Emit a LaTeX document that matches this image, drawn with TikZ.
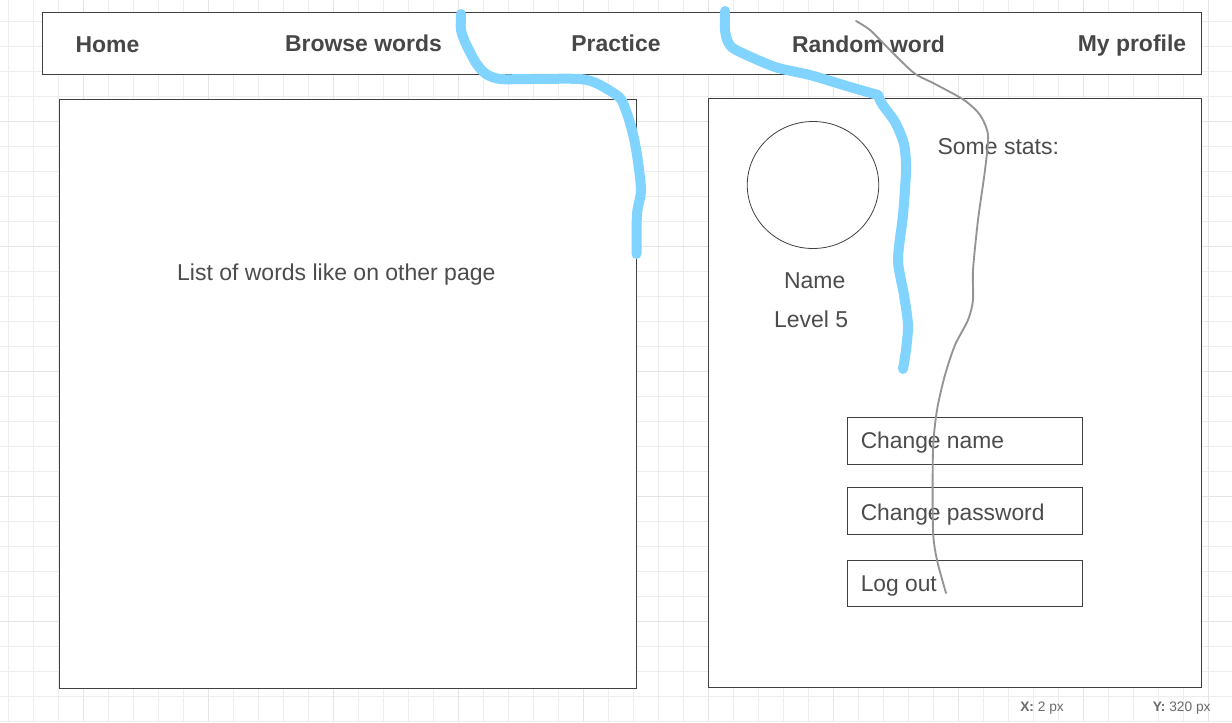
\documentclass[tikz,border=0pt]{standalone}
\usepackage{fontspec}
\setmainfont{Liberation Sans}
\usetikzlibrary{shapes.geometric}
\tikzset{
  x=0.75pt,y=-0.75pt,
  gridminor/.style={draw=black!7,line width=0.65pt},
  gridmajor/.style={draw=black!10,line width=0.85pt},
  panel/.style={draw=black!75,line width=0.7pt,fill=white,inner sep=0pt,outer sep=0pt},
  nav/.style={text=black!72,font=\fontsize{17.2}{20}\selectfont\bfseries,inner sep=0pt,anchor=base},
  label/.style={text=black!70,font=\fontsize{17.25}{20}\selectfont,inner sep=0pt,anchor=base},
  btnlabel/.style={text=black!70,font=\fontsize{17.1}{20}\selectfont,inner sep=0pt,anchor=base west},
  status/.style={text=black!58,font=\fontsize{10.3}{12}\selectfont,inner sep=0pt,anchor=base west},
  blue ink/.style={draw={rgb,255:red,128;green,212;blue,255},line width=7.5pt,line cap=round,line join=round},
  grey ink/.style={draw=black!42,line width=1.4pt,line cap=round,line join=round},
}
\begin{document}
\begin{tikzpicture}
\useasboundingbox (0,0) rectangle (1232,722);
\fill[white] (0,0) rectangle (1232,722);
\foreach \i in {0,...,48}{\draw[gridminor] ({8.3+25*\i},0) -- ({8.3+25*\i},722);}
\foreach \i in {0,...,28}{\draw[gridminor] (0,{21.7+25*\i}) -- (1232,{21.7+25*\i});}
\foreach \i in {0,...,9}{\draw[gridmajor] ({83.3+125*\i},0) -- ({83.3+125*\i},722);}
\foreach \i in {0,...,5}{\draw[gridmajor] (0,{121.7+125*\i}) -- (1232,{121.7+125*\i});}
\node[panel,minimum width=1159*0.75pt,minimum height=62*0.75pt,anchor=north west] (navbar) at (42.5,12.5) {};
\node[panel,minimum width=577*0.75pt,minimum height=589*0.75pt,anchor=north west] (wordlist) at (59.5,99.5) {};
\node[panel,minimum width=493*0.75pt,minimum height=589*0.75pt,anchor=north west] (profile) at (708.5,98.5) {};
\node[panel,ellipse,minimum width=131.5*0.75pt,minimum height=127*0.75pt,anchor=center,line width=0.6pt] (avatar) at (813,185) {};
\node[panel,minimum width=235*0.75pt,minimum height=47*0.75pt,anchor=north west] (changename) at (847.5,417.5) {};
\node[panel,minimum width=235*0.75pt,minimum height=47*0.75pt,anchor=north west] (changepass) at (847.5,487.5) {};
\node[panel,minimum width=235*0.75pt,minimum height=46*0.75pt,anchor=north west] (logout) at (847.5,560.5) {};
\node[nav] (home) at (107.5,52) {Home};
\node[nav] (browse) at (363.5,51) {Browse words};
\node[nav] (practice) at (616,51) {Practice};
\node[nav] (random) at (868.5,52) {Random word};
\node[nav] (myprofile) at (1132,51) {My profile};
\node[label] (list) at (336.3,280) {List of words like on other page};
\node[label] (name) at (814.7,288) {Name};
\node[label] (level) at (811.2,327) {Level 5};
\node[label] (stats) at (998.3,154) {Some stats:};
\node[btnlabel] (lblname) at (860.5,448) {Change name};
\node[btnlabel] (lblpass) at (860.5,520) {Change password};
\node[btnlabel] (lbllog) at (860.5,591) {Log out};
\node[status] (xpos) at (1020,711) {\textbf{X:} 2 px};
\node[status] (ypos) at (1152.5,711) {\textbf{Y:} 320 px};
\draw[blue ink] plot[smooth,tension=0.45] coordinates {(461,14) (461,30) (466,44) (476,63) (486,74) (500,79) (530,79) (580,79) (598,84) (619,97) (625,108) (632,130) (637,155) (641,190) (637,214) (636.5,254)};
\draw[blue ink] plot[smooth,tension=0.45] coordinates {(725,11) (725,30) (728,42) (736,50) (775,67) (810,75) (850,87) (878,95)};
\draw[blue ink] plot[smooth,tension=0.45] coordinates {(878,95) (882,104) (895,122) (904,144) (906,170) (903,215) (898,260) (904,295) (908,325) (906,350) (903,369)};
\draw[grey ink] plot[smooth,tension=0.45] coordinates {(856,21) (870,30) (890,50) (914,73) (935,84) (964,100) (980,115) (988,135) (985,170) (978,220) (973,270) (973,300) (968,320) (955,345) (945,375) (937,410) (933,450) (933,530) (937,560) (946,593)};
\end{tikzpicture}
\end{document}
